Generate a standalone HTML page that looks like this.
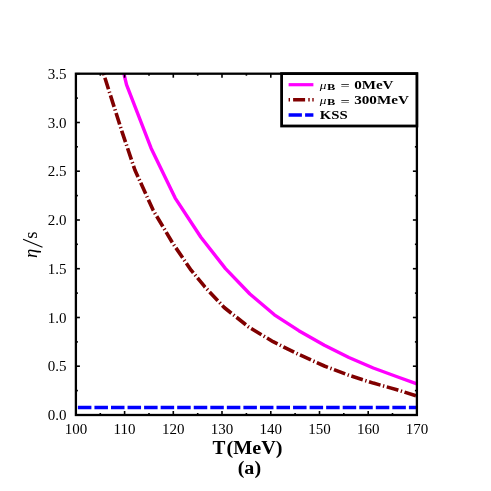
<!DOCTYPE html>
<html><head><meta charset="utf-8"><style>
html,body{margin:0;padding:0;background:#fff;}
svg{display:block;will-change:transform;opacity:0.999}
text{font-family:"Liberation Serif",serif;fill:#000}
</style></head><body>
<svg width="491" height="491" viewBox="0 0 491 491">
<rect width="491" height="491" fill="#fff"/>
<polyline points="124.0,74.0 126.5,84.7 151.1,148.2 175.2,198.1 200.9,237.2 225.5,268.6 249.9,294.0 274.4,314.8 298.8,330.7 324.4,345.2 348.9,357.5 373.3,368.0 397.8,377.0 416.9,383.9" fill="none" stroke="#ff00ff" stroke-width="3.4" stroke-linejoin="round"/>
<polyline points="103.7,74.0 121.8,131.1 134.9,170.0 153.2,210.3 172.8,243.3 191.1,270.2 204.7,286.7 224.2,307.5 248.7,327.0 273.1,341.7 297.6,353.9 324.4,366.0 348.9,375.3 373.3,383.1 397.8,390.0 416.9,396.1" fill="none" stroke="#800000" stroke-width="3.6" stroke-dasharray="12.02,2.6,1.3,2.6" stroke-dashoffset="14.6" stroke-linejoin="round"/>
<line x1="77.9" y1="407.5" x2="416.9" y2="407.5" stroke="#0000ff" stroke-width="3.4" stroke-dasharray="13.5,3.05"/>
<g stroke="#000" stroke-width="1.6"><line x1="75.9" y1="415.0" x2="75.9" y2="411.0"/><line x1="75.9" y1="73.7" x2="75.9" y2="77.7"/><line x1="100.3" y1="415.0" x2="100.3" y2="413.0"/><line x1="100.3" y1="73.7" x2="100.3" y2="75.7"/><line x1="124.6" y1="415.0" x2="124.6" y2="411.0"/><line x1="124.6" y1="73.7" x2="124.6" y2="77.7"/><line x1="149.0" y1="415.0" x2="149.0" y2="413.0"/><line x1="149.0" y1="73.7" x2="149.0" y2="75.7"/><line x1="173.3" y1="415.0" x2="173.3" y2="411.0"/><line x1="173.3" y1="73.7" x2="173.3" y2="77.7"/><line x1="197.7" y1="415.0" x2="197.7" y2="413.0"/><line x1="197.7" y1="73.7" x2="197.7" y2="75.7"/><line x1="222.0" y1="415.0" x2="222.0" y2="411.0"/><line x1="222.0" y1="73.7" x2="222.0" y2="77.7"/><line x1="246.4" y1="415.0" x2="246.4" y2="413.0"/><line x1="246.4" y1="73.7" x2="246.4" y2="75.7"/><line x1="270.8" y1="415.0" x2="270.8" y2="411.0"/><line x1="270.8" y1="73.7" x2="270.8" y2="77.7"/><line x1="295.1" y1="415.0" x2="295.1" y2="413.0"/><line x1="295.1" y1="73.7" x2="295.1" y2="75.7"/><line x1="319.5" y1="415.0" x2="319.5" y2="411.0"/><line x1="319.5" y1="73.7" x2="319.5" y2="77.7"/><line x1="343.8" y1="415.0" x2="343.8" y2="413.0"/><line x1="343.8" y1="73.7" x2="343.8" y2="75.7"/><line x1="368.2" y1="415.0" x2="368.2" y2="411.0"/><line x1="368.2" y1="73.7" x2="368.2" y2="77.7"/><line x1="392.5" y1="415.0" x2="392.5" y2="413.0"/><line x1="392.5" y1="73.7" x2="392.5" y2="75.7"/><line x1="416.9" y1="415.0" x2="416.9" y2="411.0"/><line x1="416.9" y1="73.7" x2="416.9" y2="77.7"/><line x1="75.9" y1="415.0" x2="79.9" y2="415.0"/><line x1="416.9" y1="415.0" x2="412.9" y2="415.0"/><line x1="75.9" y1="390.6" x2="77.9" y2="390.6"/><line x1="416.9" y1="390.6" x2="414.9" y2="390.6"/><line x1="75.9" y1="366.2" x2="79.9" y2="366.2"/><line x1="416.9" y1="366.2" x2="412.9" y2="366.2"/><line x1="75.9" y1="341.9" x2="77.9" y2="341.9"/><line x1="416.9" y1="341.9" x2="414.9" y2="341.9"/><line x1="75.9" y1="317.5" x2="79.9" y2="317.5"/><line x1="416.9" y1="317.5" x2="412.9" y2="317.5"/><line x1="75.9" y1="293.1" x2="77.9" y2="293.1"/><line x1="416.9" y1="293.1" x2="414.9" y2="293.1"/><line x1="75.9" y1="268.7" x2="79.9" y2="268.7"/><line x1="416.9" y1="268.7" x2="412.9" y2="268.7"/><line x1="75.9" y1="244.3" x2="77.9" y2="244.3"/><line x1="416.9" y1="244.3" x2="414.9" y2="244.3"/><line x1="75.9" y1="220.0" x2="79.9" y2="220.0"/><line x1="416.9" y1="220.0" x2="412.9" y2="220.0"/><line x1="75.9" y1="195.6" x2="77.9" y2="195.6"/><line x1="416.9" y1="195.6" x2="414.9" y2="195.6"/><line x1="75.9" y1="171.2" x2="79.9" y2="171.2"/><line x1="416.9" y1="171.2" x2="412.9" y2="171.2"/><line x1="75.9" y1="146.8" x2="77.9" y2="146.8"/><line x1="416.9" y1="146.8" x2="414.9" y2="146.8"/><line x1="75.9" y1="122.5" x2="79.9" y2="122.5"/><line x1="416.9" y1="122.5" x2="412.9" y2="122.5"/><line x1="75.9" y1="98.1" x2="77.9" y2="98.1"/><line x1="416.9" y1="98.1" x2="414.9" y2="98.1"/><line x1="75.9" y1="73.7" x2="79.9" y2="73.7"/><line x1="416.9" y1="73.7" x2="412.9" y2="73.7"/></g>
<rect x="75.9" y="73.7" width="341.0" height="341.3" fill="none" stroke="#000" stroke-width="2.3"/>
<rect x="281.6" y="73.6" width="135.29999999999995" height="52.4" fill="#fff" stroke="#000" stroke-width="2.8"/>
<line x1="288.6" y1="84.7" x2="313.4" y2="84.7" stroke="#ff00ff" stroke-width="3.2"/>
<line x1="288.6" y1="99.7" x2="313.7" y2="99.7" stroke="#800000" stroke-width="3.5" stroke-dasharray="1.4,3.1,12,3.2,1.4,2.6,1,0"/>
<line x1="288.6" y1="115.0" x2="313.4" y2="115.0" stroke="#0000ff" stroke-width="3.5" stroke-dasharray="13.3,3.2"/>
<g font-size="12" font-weight="bold" lengthAdjust="spacingAndGlyphs">
<text x="319.8" y="88.8" font-style="italic" font-size="11" font-weight="normal" textLength="6.7" lengthAdjust="spacingAndGlyphs">μ</text>
<text x="327.1" y="90.0" font-size="8.5" textLength="8.3" lengthAdjust="spacingAndGlyphs">B</text>
<text x="340.5" y="90.4" font-weight="normal" textLength="9.2" lengthAdjust="spacingAndGlyphs">=</text>
<text x="354.2" y="88.8" textLength="39.3" lengthAdjust="spacingAndGlyphs">0MeV</text>
<text x="319.8" y="103.9" font-style="italic" font-size="11" font-weight="normal" textLength="6.7" lengthAdjust="spacingAndGlyphs">μ</text>
<text x="327.1" y="105.1" font-size="8.5" textLength="8.3" lengthAdjust="spacingAndGlyphs">B</text>
<text x="340.5" y="105.5" font-weight="normal" textLength="9.2" lengthAdjust="spacingAndGlyphs">=</text>
<text x="354.2" y="103.9" textLength="54.7" lengthAdjust="spacingAndGlyphs">300MeV</text>
<text x="319.8" y="118.8" textLength="27.9" lengthAdjust="spacingAndGlyphs">KSS</text>
</g>
<g font-size="15"><text x="75.9" y="434" text-anchor="middle">100</text><text x="124.6" y="434" text-anchor="middle">110</text><text x="173.3" y="434" text-anchor="middle">120</text><text x="222.0" y="434" text-anchor="middle">130</text><text x="270.8" y="434" text-anchor="middle">140</text><text x="319.5" y="434" text-anchor="middle">150</text><text x="368.2" y="434" text-anchor="middle">160</text><text x="416.9" y="434" text-anchor="middle">170</text><text x="66.5" y="420.0" text-anchor="end">0.0</text><text x="66.5" y="371.2" text-anchor="end">0.5</text><text x="66.5" y="322.5" text-anchor="end">1.0</text><text x="66.5" y="273.7" text-anchor="end">1.5</text><text x="66.5" y="225.0" text-anchor="end">2.0</text><text x="66.5" y="176.2" text-anchor="end">2.5</text><text x="66.5" y="127.5" text-anchor="end">3.0</text><text x="66.5" y="78.7" text-anchor="end">3.5</text></g>
<text x="212.6" y="454.2" font-size="18" font-weight="bold" textLength="12.9" lengthAdjust="spacingAndGlyphs">T</text>
<text x="226.5" y="454.2" font-size="18.5" font-weight="bold" textLength="56" lengthAdjust="spacingAndGlyphs">(MeV)</text>
<text x="237.7" y="473.7" font-size="18.5" font-weight="bold" textLength="23.4" lengthAdjust="spacingAndGlyphs">(a)</text>
<g transform="translate(37.3,0) rotate(-90)" font-size="20">
<text x="-257.9" y="0" font-size="18.5" font-style="italic">η</text>
<text x="-238.7" y="0" font-size="18.5">s</text>
</g>
<line x1="42.5" y1="247.3" x2="23.1" y2="239.2" stroke="#000" stroke-width="1.1"/>
</svg>
</body></html>
